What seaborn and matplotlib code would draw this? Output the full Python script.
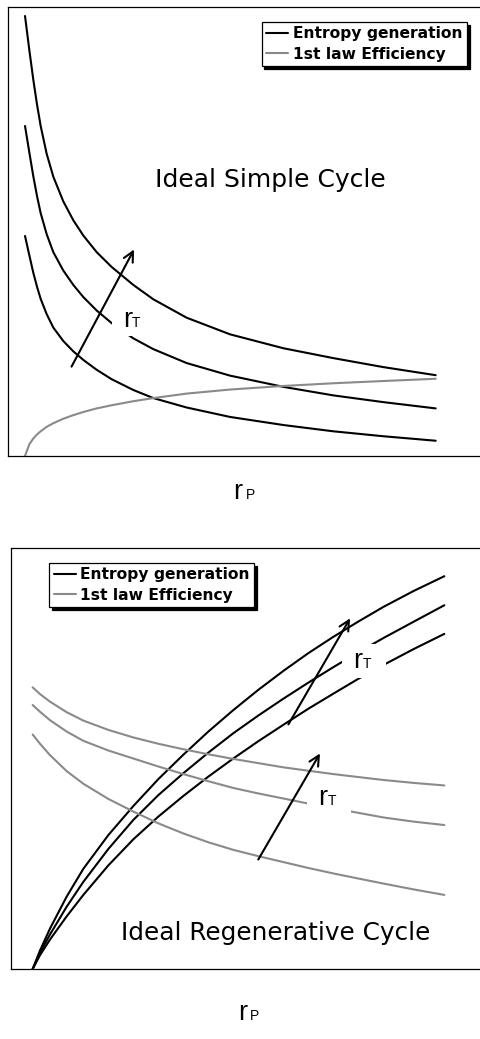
import matplotlib
matplotlib.use("Agg")
import matplotlib.pyplot as plt
from matplotlib.patches import Rectangle
import pandas as pd
import seaborn as sns

ENT = "Entropy generation"
EFF = "1st law Efficiency"

# ---------------- Ideal simple cycle (arbitrary units) ----------------
rp_simple = [3.59, 4.50, 5.34, 6.12, 6.89, 8.16, 9.56, 11.67, 13.78, 15.89,
             18.71, 21.87, 26.44, 30.66, 37.69, 46.84, 58.09, 68.64, 79.18, 90.23]
sgen_simple_high = [98.0, 90.4, 83.8, 78.3, 73.5, 67.3, 62.2, 56.7, 52.5, 49.1,
                    45.4, 42.1, 38.1, 34.9, 30.8, 27.1, 24.0, 21.8, 19.8, 18.0]
sgen_simple_mid = [73.5, 67.6, 62.3, 57.9, 54.1, 49.4, 45.4, 41.3, 38.1, 35.4,
                   32.4, 29.6, 26.2, 23.8, 20.7, 17.9, 15.4, 13.5, 12.0, 10.6]
sgen_simple_low = [49.0, 44.7, 40.8, 37.7, 35.0, 31.6, 28.6, 25.6, 23.3, 21.4,
                   19.2, 17.1, 14.7, 12.9, 10.8, 8.7, 6.9, 5.5, 4.4, 3.4]
eta_simple = [0.0, 2.6, 3.9, 4.8, 5.5, 6.5, 7.3, 8.3, 9.1, 9.8,
              10.6, 11.3, 12.2, 12.9, 13.9, 14.8, 15.6, 16.2, 16.7, 17.2]

# ---------------- Ideal regenerative cycle (arbitrary units) ----------------
rp_regen = [4.60, 6.16, 8.28, 11.82, 15.36, 20.66, 25.97, 31.28, 36.59, 41.90,
            47.20, 52.50, 57.82, 63.10, 68.44, 73.70, 79.05, 85.50, 92.00]
sgen_regen_high = [0.0, 4.4, 9.6, 17.2, 23.8, 31.8, 38.7, 45.1, 50.9, 56.4,
                   61.5, 66.3, 70.8, 75.0, 78.9, 82.5, 86.0, 89.8, 93.3]
sgen_regen_mid = [0.0, 3.9, 8.2, 14.8, 20.7, 28.5, 35.4, 41.3, 46.5, 51.4,
                  56.0, 60.2, 64.2, 68.0, 71.7, 75.2, 78.6, 82.5, 86.4]
sgen_regen_low = [0.0, 3.3, 7.0, 12.5, 17.6, 24.6, 30.8, 36.2, 41.1, 45.7,
                  50.0, 54.1, 58.0, 61.8, 65.4, 68.9, 72.2, 76.0, 79.6]
eta_regen_high = [66.9, 65.3, 63.5, 61.0, 59.0, 56.8, 55.0, 53.5, 52.2, 51.0,
                  49.9, 48.9, 47.9, 47.1, 46.3, 45.6, 44.9, 44.2, 43.6]
eta_regen_mid = [62.7, 61.1, 59.1, 56.4, 54.2, 51.9, 50.0, 48.1, 46.3, 44.6,
                 43.0, 41.7, 40.5, 39.3, 38.2, 37.1, 36.0, 35.0, 34.2]
eta_regen_low = [55.7, 53.5, 50.8, 47.0, 44.0, 40.4, 37.4, 34.6, 32.2, 30.1,
                 28.3, 26.8, 25.4, 24.0, 22.7, 21.5, 20.3, 18.9, 17.6]


def long_frame(rp, curves):
    rows = []
    for name, kind, values in curves:
        for x, y in zip(rp, values):
            rows.append({"rP": x, "value": y, "kind": kind, "curve": name})
    return pd.DataFrame(rows)


df_simple = long_frame(rp_simple, [
    ("s_high", ENT, sgen_simple_high),
    ("s_mid", ENT, sgen_simple_mid),
    ("s_low", ENT, sgen_simple_low),
    ("eta", EFF, eta_simple),
])
df_regen = long_frame(rp_regen, [
    ("s_high", ENT, sgen_regen_high),
    ("s_mid", ENT, sgen_regen_mid),
    ("s_low", ENT, sgen_regen_low),
    ("eta_high", EFF, eta_regen_high),
    ("eta_mid", EFF, eta_regen_mid),
    ("eta_low", EFF, eta_regen_low),
])

sns.set_theme(style="white")
plt.rcParams["font.family"] = ["DejaVu Sans"]
plt.rcParams["text.color"] = "black"

W, H = 480, 1039
fig = plt.figure(figsize=(W / 100, H / 100), dpi=100)
fig.patch.set_facecolor("white")

# axes boxes in pixels: (left, top, right, bottom)
box_top = (8, 7, 482, 456)
box_bot = (11, 548, 482, 969)


def make_axes(box):
    l, t, r, b = box
    return fig.add_axes([l / W, 1 - b / H, (r - l) / W, (b - t) / H])


ax1 = make_axes(box_top)
ax2 = make_axes(box_bot)

palette = {ENT: "black", EFF: "#8a8a8a"}
for ax, df in ((ax1, df_simple), (ax2, df_regen)):
    sns.lineplot(data=df, x="rP", y="value", hue="kind", hue_order=[ENT, EFF],
                 units="curve", estimator=None, sort=False, palette=palette,
                 linewidth=1.5, ax=ax)
    ax.set_xlim(0, 100)
    ax.set_ylim(0, 100)
    ax.set_xticks([])
    ax.set_yticks([])
    ax.set_xlabel("")
    ax.set_ylabel("")
    for s in ax.spines.values():
        s.set_color("black")
        s.set_linewidth(0.9)


def styled_legend(ax, loc, anchor):
    handles, labels = ax.get_legend_handles_labels()
    for h in handles:
        h.set_linewidth(1.5)
    leg = ax.legend(handles, labels, loc=loc, bbox_to_anchor=anchor,
                    prop={"weight": "bold", "size": 11.2},
                    frameon=True, fancybox=False, framealpha=1,
                    edgecolor="black", handlelength=1.4, handletextpad=0.3,
                    labelspacing=0.33, borderpad=0.3, borderaxespad=0,
                    shadow={"facecolor": "black", "edgecolor": "black", "alpha": 1})
    leg.get_frame().set_linewidth(0.9)
    for t in leg.get_texts():
        t.set_color("black")
    leg.set_zorder(6)


styled_legend(ax1, "upper right", (0.968, 0.967))
styled_legend(ax2, "upper left", (0.081, 0.965))


def rt_label(ax, box, x_px, base_px):
    """'r' with a small 'T' on a white patch; positions given in figure pixels."""
    l, t, r, b = box
    aw, ah = r - l, b - t
    x = (x_px - l) / aw
    y = (b - base_px) / ah
    left, right, up, down = 20, 24, 25, 9
    ax.add_patch(Rectangle((x - left / aw, y - down / ah), (left + right) / aw,
                           (up + down) / ah, transform=ax.transAxes,
                           facecolor="white", edgecolor="none", zorder=3))
    ax.text(x, y, "r", transform=ax.transAxes, ha="right", va="baseline",
            fontsize=19.5, family="Liberation Sans", zorder=4)
    ax.text(x, y, "T", transform=ax.transAxes, ha="left", va="baseline",
            fontsize=10, family="Liberation Sans", zorder=4)


def arrow(ax, start, end):
    ax.annotate("", xy=end, xytext=start, xycoords="data", textcoords="data",
                arrowprops=dict(arrowstyle="->,head_length=0.6,head_width=0.3",
                                color="black", lw=1.5, shrinkA=0, shrinkB=0),
                zorder=5)


# Simple cycle annotations
rt_label(ax1, box_top, 132, 327.5)
arrow(ax1, (13.4, 19.9), (26.6, 46.0))
ax1.text(0.554, 0.615, "Ideal Simple Cycle", transform=ax1.transAxes,
         ha="center", va="center", fontsize=18)

# Regenerative cycle annotations
rt_label(ax2, box_bot, 362.3, 668.5)
rt_label(ax2, box_bot, 327.3, 805)
arrow(ax2, (58.9, 58.1), (72.0, 83.3))
arrow(ax2, (52.5, 26.0), (65.6, 51.2))
ax2.text(0.5626, 0.086, "Ideal Regenerative Cycle", transform=ax2.transAxes,
         ha="center", va="center", fontsize=17.8)


def rp_axis_label(x_px, base_px):
    fig.text((x_px - 0.5) / W, 1 - base_px / H, "r", ha="right", va="baseline",
             fontsize=19.5, family="Liberation Sans")
    fig.text((x_px + 2.5) / W, 1 - base_px / H, "P", ha="left", va="baseline",
             fontsize=10, family="Liberation Sans")


rp_axis_label(243, 499)
rp_axis_label(247.5, 1020)

fig.savefig("out.png", dpi=100, facecolor="white")
